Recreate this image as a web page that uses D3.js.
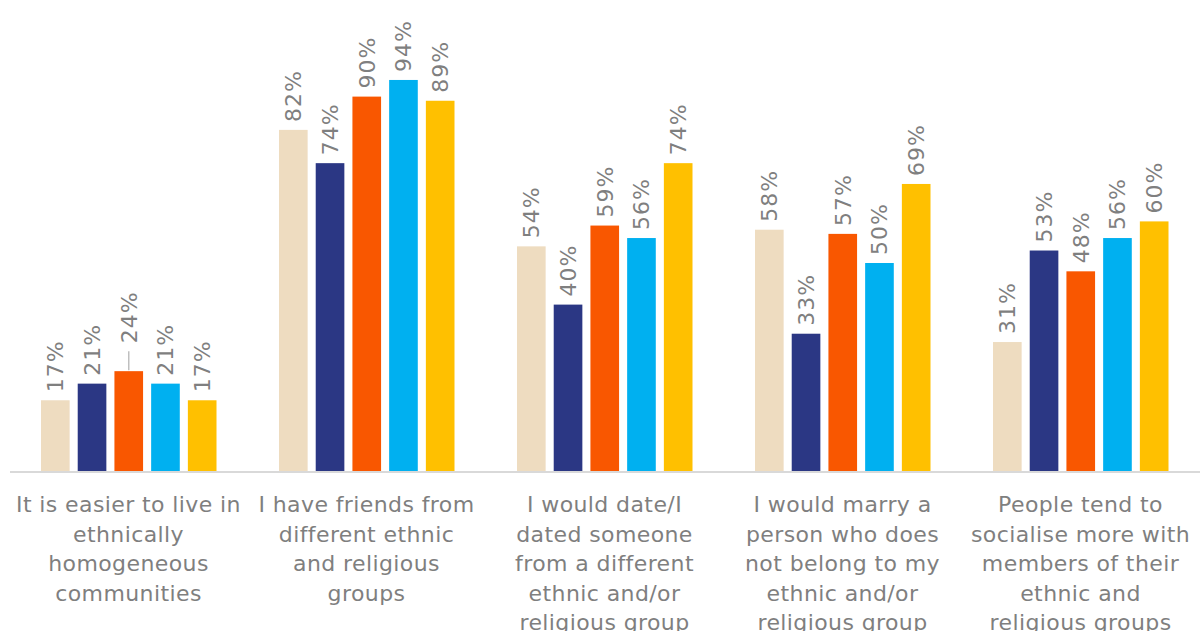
<!DOCTYPE html>
<html>
<head>
<meta charset="utf-8">
<script src="https://cdn.jsdelivr.net/npm/d3@7"></script>
<style>
body { margin: 0; background: #fff; }
svg { display: block; font-family: "DejaVu Sans", sans-serif; }
</style>
</head>
<body>
<svg width="1200" height="631"></svg>
<script>
// chart data
var categories = [
  ["It is easier to live in", "ethnically", "homogeneous", "communities"],
  ["I have friends from", "different ethnic", "and religious", "groups"],
  ["I would date/I", "dated someone", "from a different", "ethnic and/or", "religious group"],
  ["I would marry a", "person who does", "not belong to my", "ethnic and/or", "religious group"],
  ["People tend to", "socialise more with", "members of their", "ethnic and", "religious groups"]
]
var series = ["s1", "s2", "s3", "s4", "s5"]
var values = [
  [17, 21, 24, 21, 17],
  [82, 74, 90, 94, 89],
  [54, 40, 59, 56, 74],
  [58, 33, 57, 50, 69],
  [31, 53, 48, 56, 60]
]
var colors = ["#EEDCC0", "#2B3784", "#F95700", "#00B0F0", "#FFC000"]

var baseY = 471

var svg = d3.select("svg")

var x0 = d3.scaleBand()
  .domain(d3.range(categories.length))
  .range([9.5, 1199.5])

var x1 = d3.scaleBand()
  .domain(series)
  .range([31.5, 207])
  .paddingInner(0.22)

var y = d3.scaleLinear()
  .domain([0, 100])
  .range([baseY, 55])

var color = d3.scaleOrdinal().domain(series).range(colors)

//groups of bars
var groups = svg.selectAll("g.grp")
  .data(values)
  .enter()
  .append("g")
  .attr("class", "grp")
  .attr("transform", function(d, i){ return "translate(" + x0(i) + ",0)" })

groups.selectAll("rect")
  .data(function(d){ return d.map(function(v, j){ return {s: series[j], v: v} }) })
  .enter()
  .append("rect")
  .attr("x", function(d){ return x1(d.s) })
  .attr("width", x1.bandwidth())
  .attr("y", function(d){ return y(d.v) })
  .attr("height", function(d){ return baseY - y(d.v) })
  .style("fill", function(d){ return color(d.s) })

//axis line
svg.append("line")
  .attr("x1", 10)
  .attr("x2", 1200)
  .attr("y1", baseY + 1)
  .attr("y2", baseY + 1)
  .style("stroke", "#d9d9d9")
  .style("stroke-width", 2)

//value labels, rotated; the 24% one got nudged up with a leader line
groups.each(function(row, i){
  var g = d3.select(this)
  row.forEach(function(v, j){
    var cx = x1(series[j]) + x1.bandwidth() / 2
    var lift = (i == 0 && j == 2) ? 28 : 8
    if (lift > 8) {
      g.append("line")
        .attr("x1", cx).attr("x2", cx)
        .attr("y1", y(v) - 1).attr("y2", y(v) - 20)
        .style("stroke", "#bfbfbf")
        .style("stroke-width", 1.5)
    }
    g.append("text")
      .attr("transform", "translate(" + (cx + 8) + "," + (y(v) - lift) + ") rotate(-90)")
      .style("font-size", "22px")
      .style("letter-spacing", "1px")
      .style("fill", "#7f7f7f")
      .text(v + "%")
  })
})

//category labels
svg.selectAll("text.cat")
  .data(categories)
  .enter()
  .append("text")
  .attr("class", "cat")
  .attr("text-anchor", "middle")
  .style("font-size", "22px")
  .style("letter-spacing", "0.4px")
  .style("fill", "#7f7f7f")
  .each(function(lines, i){
    var t = d3.select(this)
    lines.forEach(function(l, k){
      t.append("tspan")
        .attr("x", x0(i) + x0.bandwidth() / 2)
        .attr("y", 512 + k * 29.5)
        .text(l)
    })
  })
</script>
</body>
</html>
